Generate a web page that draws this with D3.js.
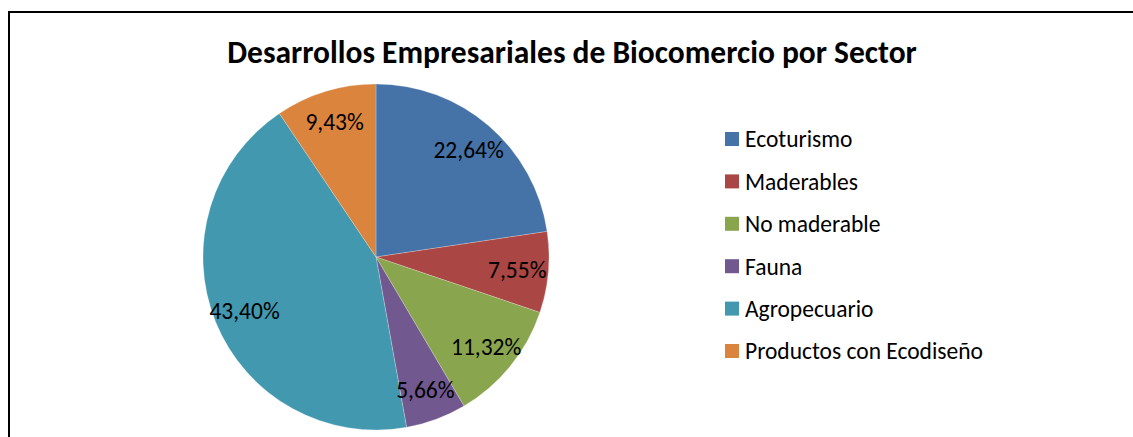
<!DOCTYPE html>
<html>
<head>
<meta charset="utf-8">
<script src="https://cdn.jsdelivr.net/npm/d3@7"></script>
<style>
  body { margin: 0; background: #fff; }
  text { font-family: Carlito, Calibri, Lato, "Open Sans", sans-serif; fill: #000; }
</style>
</head>
<body>
<div id="chart"></div>
<script>
var sectors = ["Ecoturismo", "Maderables", "No maderable", "Fauna", "Agropecuario", "Productos con Ecodiseño"];
var shares = [22.64, 7.55, 11.32, 5.66, 43.40, 9.43];
var colors = ["#4572A7", "#AA4643", "#89A54E", "#71588F", "#4198AF", "#DB843D"];

var svgWidth = 1133;
var svgHeight = 437;

var svg = d3.select("#chart")
  .append("svg")
  .attr("width", svgWidth)
  .attr("height", svgHeight);

// frame (right and bottom edges run off the picture)
svg.append("rect")
  .attr("x", 9)
  .attr("y", 12)
  .attr("width", 1200)
  .attr("height", 500)
  .attr("fill", "none")
  .attr("stroke", "#000")
  .attr("stroke-width", 2);

svg.append("text")
  .attr("x", 572)
  .attr("y", 63)
  .attr("text-anchor", "middle")
  .style("font-size", "31.5px")
  .style("font-weight", "bold")
  .text("Desarrollos Empresariales de Biocomercio por Sector");

var color = d3.scaleOrdinal().domain(sectors).range(colors);

var data = sectors.map(function(s, i) { return { name: s, value: shares[i] }; });

var radius = 173;
var pieGroup = svg.append("g")
  .attr("transform", "translate(376, 257)");

var pie = d3.pie().sort(null).value(d => d.value);
var arc = d3.arc().innerRadius(0).outerRadius(radius);
var labelArc = d3.arc().innerRadius(radius * 0.82).outerRadius(radius * 0.82);

var arcs = pie(data);

pieGroup.selectAll("path")
  .data(arcs)
  .enter()
  .append("path")
  .attr("d", arc)
  .attr("fill", d => color(d.data.name))
  .attr("stroke", "rgba(255,255,255,0.4)")
  .attr("stroke-width", 0.6);

pieGroup.selectAll("text")
  .data(arcs)
  .enter()
  .append("text")
  .attr("transform", d => `translate(${labelArc.centroid(d)})`)
  .attr("text-anchor", "middle")
  .attr("dy", "0.35em")
  .style("font-size", "23.5px")
  .text(d => d.data.value.toFixed(2).replace(".", ",") + "%");

// legend
var legendY = d3.scalePoint()
  .domain(sectors)
  .range([139, 351]);

var legend = svg.append("g");

var items = legend.selectAll("g")
  .data(sectors)
  .enter()
  .append("g")
  .attr("transform", d => `translate(725, ${legendY(d)})`);

items.append("rect")
  .attr("x", 0)
  .attr("y", -7)
  .attr("width", 14)
  .attr("height", 14)
  .attr("fill", d => color(d));

items.append("text")
  .attr("x", 20)
  .attr("dy", "0.36em")
  .style("font-size", "23.5px")
  .text(d => d);
</script>
</body>
</html>
